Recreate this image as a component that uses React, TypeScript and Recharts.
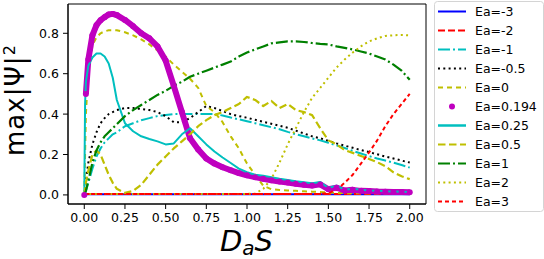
import React from 'react'
import { LineChart, Line, XAxis, YAxis, Legend, ReferenceArea } from 'recharts'

const xs = [
  0, 0.005, 0.01, 0.025, 0.05, 0.075, 0.1, 0.125, 0.15, 0.175, 0.2, 0.25, 0.3, 0.35, 0.4, 0.45,
  0.5, 0.55, 0.6, 0.65, 0.7, 0.75, 0.8, 0.85, 0.9, 0.95, 1.0, 1.05, 1.1, 1.15, 1.2, 1.25,
  1.3, 1.35, 1.4, 1.45, 1.5, 1.55, 1.6, 1.65, 1.7, 1.75, 1.8, 1.85, 1.9, 1.95, 2.0,
]

const eaM3 = [
  0, 0.002, 0.003, 0.003, 0.003, 0.003, 0.003, 0.003, 0.003, 0.003, 0.003, 0.003, 0.003, 0.003, 0.003, 0.003,
  0.003, 0.003, 0.003, 0.003, 0.003, 0.003, 0.003, 0.003, 0.003, 0.003, 0.003, 0.003, 0.003, 0.003, 0.003, 0.003,
  0.003, 0.003, 0.003, 0.003, 0.003, 0.003, 0.003, 0.003, 0.003, 0.003, 0.003, 0.003, 0.003, 0.003, 0.003,
]
const eaM2 = [
  0, 0.003, 0.004, 0.005, 0.005, 0.005, 0.005, 0.005, 0.005, 0.005, 0.005, 0.005, 0.005, 0.005, 0.005, 0.005,
  0.005, 0.005, 0.005, 0.005, 0.005, 0.005, 0.005, 0.005, 0.005, 0.005, 0.005, 0.005, 0.005, 0.005, 0.005, 0.005,
  0.005, 0.005, 0.005, 0.005, 0.005, 0.005, 0.005, 0.005, 0.005, 0.005, 0.005, 0.005, 0.005, 0.005, 0.005,
]
const eaM1 = [
  0, 0.01, 0.02, 0.06, 0.13, 0.19, 0.23, 0.26, 0.28, 0.3, 0.31, 0.34, 0.355, 0.37, 0.38, 0.39,
  0.395, 0.4, 0.4, 0.4, 0.4, 0.4, 0.4, 0.393, 0.383, 0.374, 0.365, 0.355, 0.345, 0.335, 0.325, 0.312,
  0.3, 0.29, 0.28, 0.27, 0.258, 0.245, 0.232, 0.218, 0.205, 0.192, 0.18, 0.17, 0.16, 0.148, 0.135,
]
const eaM05 = [
  0, 0.03, 0.07, 0.16, 0.25, 0.31, 0.355, 0.38, 0.4, 0.41, 0.42, 0.43, 0.43, 0.425, 0.42, 0.41,
  0.39, 0.36, 0.36, 0.38, 0.41, 0.44, 0.43, 0.415, 0.4, 0.39, 0.382, 0.372, 0.362, 0.352, 0.342, 0.332,
  0.318, 0.304, 0.29, 0.28, 0.268, 0.255, 0.244, 0.233, 0.222, 0.212, 0.201, 0.19, 0.18, 0.17, 0.16,
]
const ea0 = [
  0, 0.2, 0.4, 0.62, 0.74, 0.78, 0.8, 0.81, 0.815, 0.815, 0.815, 0.805, 0.79, 0.77, 0.745, 0.715,
  0.685, 0.645, 0.61, 0.575, 0.53, 0.44, 0.41, 0.36, 0.29, 0.23, 0.155, 0.1, 0.045, 0.028, 0.024, 0.022,
  0.02, 0.018, 0.016, 0.014, 0.012, 0.01, 0.009, 0.008, 0.008, 0.008, 0.008, 0.008, 0.008, 0.008, 0.008,
]
const ea0194 = [
  0, null, 0.5, 0.67, 0.79, 0.84, 0.865, 0.88, 0.893, 0.896, 0.89, 0.866, 0.835, 0.8, 0.775, 0.735,
  0.665, 0.54, 0.41, 0.28, 0.225, 0.18, 0.155, 0.137, 0.122, 0.108, 0.097, 0.088, 0.08, 0.072, 0.066, 0.061,
  0.055, 0.05, 0.046, 0.052, 0.028, 0.036, 0.022, 0.025, 0.02, 0.019, 0.017, 0.016, 0.015, 0.014, 0.013,
]
const ea025 = [
  0, 0.45, 0.56, 0.64, 0.68, 0.7, 0.7, 0.685, 0.65, 0.58, 0.47, 0.355, 0.315, 0.29, 0.277, 0.265,
  0.25, 0.255, 0.3, 0.33, 0.29, 0.25, 0.215, 0.185, 0.158, 0.13, 0.112, 0.1, 0.095, 0.088, 0.08, 0.074,
  0.068, 0.063, 0.058, 0.064, 0.034, 0.046, 0.026, 0.031, 0.025, 0.022, 0.02, 0.018, 0.017, 0.016, 0.015,
]
const ea05 = [
  0, 0.03, 0.06, 0.12, 0.2, 0.22, 0.2, 0.15, 0.1, 0.06, 0.03, 0.01, 0.02, 0.05, 0.1, 0.15,
  0.19, 0.23, 0.265, 0.3, 0.34, 0.37, 0.395, 0.41, 0.43, 0.45, 0.485, 0.47, 0.44, 0.465, 0.43, 0.45,
  0.42, 0.41, 0.395, 0.33, 0.27, 0.25, 0.222, 0.208, 0.193, 0.178, 0.162, 0.142, 0.112, 0.092, 0.078,
]
const ea1 = [
  0, 0.01, 0.02, 0.07, 0.16, 0.22, 0.26, 0.29, 0.31, 0.33, 0.35, 0.39, 0.42, 0.445, 0.47, 0.495,
  0.515, 0.54, 0.56, 0.585, 0.6, 0.615, 0.63, 0.645, 0.66, 0.685, 0.705, 0.72, 0.735, 0.75, 0.755, 0.76,
  0.76, 0.757, 0.752, 0.748, 0.745, 0.735, 0.728, 0.72, 0.71, 0.7, 0.685, 0.67, 0.645, 0.615, 0.57,
]
const ea2 = [
  0, 0.002, 0.003, 0.004, 0.005, 0.005, 0.005, 0.005, 0.005, 0.005, 0.005, 0.005, 0.005, 0.005, 0.005, 0.005,
  0.005, 0.005, 0.005, 0.005, 0.005, 0.005, 0.005, 0.005, 0.005, 0.005, 0.005, 0.006, 0.03, 0.08, 0.16, 0.25,
  0.33, 0.41, 0.48, 0.53, 0.58, 0.63, 0.67, 0.705, 0.735, 0.76, 0.775, 0.787, 0.79, 0.792, 0.79,
]
const ea3 = [
  0, 0.002, 0.003, 0.004, 0.004, 0.004, 0.004, 0.004, 0.004, 0.004, 0.004, 0.004, 0.004, 0.004, 0.004, 0.004,
  0.004, 0.004, 0.004, 0.004, 0.004, 0.004, 0.004, 0.004, 0.004, 0.004, 0.004, 0.004, 0.004, 0.004, 0.004, 0.004,
  0.004, 0.004, 0.004, 0.005, 0.01, 0.025, 0.06, 0.1, 0.155, 0.21, 0.27, 0.34, 0.4, 0.45, 0.5,
]

const xTicks = [0, 0.25, 0.5, 0.75, 1.0, 1.25, 1.5, 1.75, 2.0]
const yTicks = [0, 0.2, 0.4, 0.6, 0.8]

type Series = {
  key: string
  name: string
  values: (number | null)[]
  color: string
  dash?: string
  width: number
  dots?: boolean
}

const series: Series[] = [
  { key: 'm3', name: 'Ea=-3', values: eaM3, color: '#0000ff', width: 2 },
  { key: 'm2', name: 'Ea=-2', values: eaM2, color: '#ff0000', dash: '7 3', width: 2 },
  { key: 'm1', name: 'Ea=-1', values: eaM1, color: '#00bfbf', dash: '12 3 2 3', width: 2 },
  { key: 'm05', name: 'Ea=-0.5', values: eaM05, color: '#000000', dash: '2 3.3', width: 2 },
  { key: 'p0', name: 'Ea=0', values: ea0, color: '#bfbf00', dash: '5 4', width: 2 },
  { key: 'p0194', name: 'Ea=0.194', values: ea0194, color: '#bf00bf', width: 6, dots: true },
  { key: 'p025', name: 'Ea=0.25', values: ea025, color: '#00bfbf', width: 2 },
  { key: 'p05', name: 'Ea=0.5', values: ea05, color: '#bfbf00', dash: '7.5 3.5', width: 2.2 },
  { key: 'p1', name: 'Ea=1', values: ea1, color: '#008000', dash: '12 3 2 3', width: 2.2 },
  { key: 'p2', name: 'Ea=2', values: ea2, color: '#bfbf00', dash: '2 3.3', width: 2 },
  { key: 'p3', name: 'Ea=3', values: ea3, color: '#ff0000', dash: '4 3', width: 2 },
]

const data = xs.map((x, i) => {
  const row: Record<string, number | null> = { x }
  series.forEach((s) => {
    row[s.key] = s.values[i]
  })
  return row
})

const font = '"DejaVu Sans", sans-serif'

function LegendBox() {
  return (
    <svg width={110} height={212} style={{ fontFamily: font, display: 'block' }}>
      <rect x={0.5} y={0.5} width={109} height={210} rx={3} fill="#fff" stroke="#d4d4d4" />
      {series.map((s, i) => {
        const cy = 10.5 + i * 19
        return (
          <g key={s.key}>
            {s.dots ? (
              <circle cx={18} cy={cy} r={3} fill={s.color} />
            ) : (
              <line
                x1={4}
                x2={32}
                y1={cy}
                y2={cy}
                stroke={s.color}
                strokeWidth={s.key === 'p025' ? 2.5 : 2}
                strokeDasharray={s.dash}
              />
            )}
            <text x={41} y={cy} dy="0.36em" fontSize={12.5} fill="#000">
              {s.name}
            </text>
          </g>
        )
      })}
    </svg>
  )
}

function XLabel() {
  return (
    <text x={220} y={251} fontSize={29} fontStyle="italic" fontFamily={font} fill="#000">
      D<tspan fontSize={20} dy={4}>a</tspan>
      <tspan dy={-4}>S</tspan>
    </text>
  )
}

function YLabel() {
  return (
    <text
      transform="translate(24,156) rotate(-90)"
      fontSize={26}
      letterSpacing={1}
      fontFamily={font}
      fill="#000"
    >
      max|Ψ|<tspan fontSize={16} dy={-9}>2</tspan>
    </text>
  )
}

export default function App() {
  return (
    <div style={{ position: 'absolute', left: 0, top: 0, width: 544, height: 259, background: '#fff' }}>
      <LineChart width={544} height={259} data={data} margin={{ top: 4, right: 118, left: 0, bottom: 25 }}>
        <XAxis
          dataKey="x"
          type="number"
          domain={[-0.1, 2.1]}
          ticks={xTicks}
          tickFormatter={(v: number) => v.toFixed(2)}
          allowDataOverflow
          height={30}
          stroke="#000"
          tickSize={5}
          tickMargin={4}
          tick={{ fontSize: 12.5, fill: '#000', fontFamily: font }}
          label={<XLabel />}
        />
        <YAxis
          type="number"
          domain={[-0.045, 0.945]}
          ticks={yTicks}
          tickFormatter={(v: number) => v.toFixed(1)}
          allowDataOverflow
          width={68}
          stroke="#000"
          tickSize={5}
          tickMargin={4}
          tick={{ fontSize: 12.5, fill: '#000', fontFamily: font }}
          label={<YLabel />}
        />
        <ReferenceArea
          x1={-0.1}
          x2={2.1}
          y1={-0.045}
          y2={0.945}
          fill="none"
          stroke="#000"
          strokeWidth={1}
          ifOverflow="visible"
        />
        {series.map((s) => (
          <Line
            key={s.key}
            dataKey={s.key}
            name={s.name}
            type="linear"
            stroke={s.color}
            strokeWidth={s.width}
            strokeDasharray={s.dash}
            strokeLinejoin="round"
            dot={s.dots ? { r: 3, fill: s.color, stroke: 'none' } : false}
            activeDot={false}
            isAnimationActive={false}
          />
        ))}
        <Legend
          layout="vertical"
          align="center"
          verticalAlign="middle"
          width={110}
          wrapperStyle={{ left: 434, top: 1, width: 110 }}
          content={() => <LegendBox />}
        />
      </LineChart>
    </div>
  )
}
